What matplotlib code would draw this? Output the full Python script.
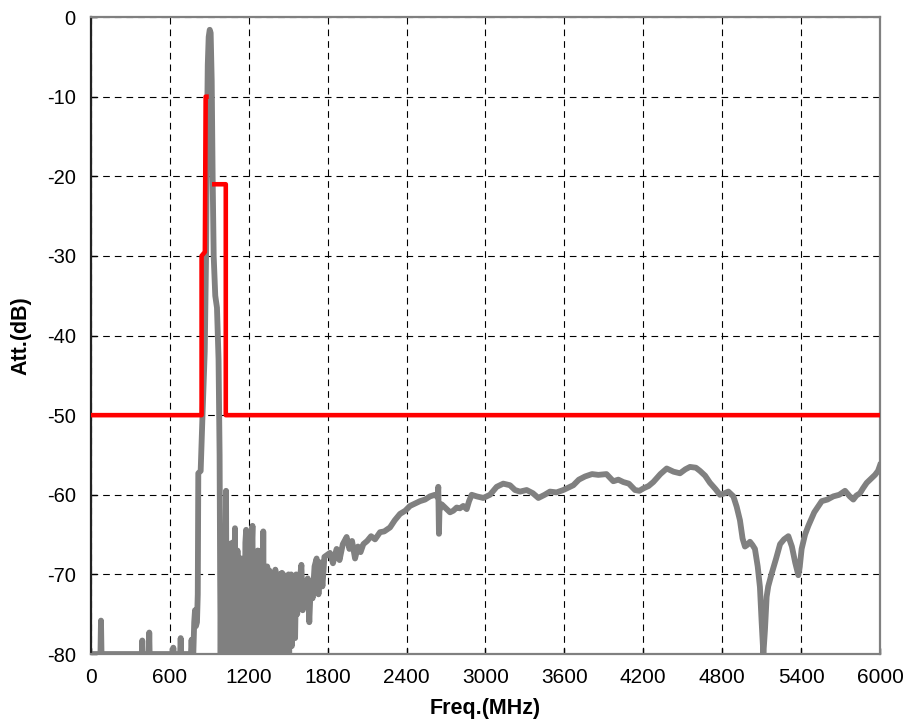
import matplotlib
matplotlib.use('Agg')
import matplotlib.pyplot as plt
import numpy as np

# measured response read off the plot (MHz, dB); -80 is the bottom of the scale
# stop band below the pass band and the pass band peak
freq_low = [0, 60, 72, 76, 80, 92, 380, 386, 390, 394,
            400, 436, 440, 443, 446, 452, 615, 622, 626, 630,
            636, 672, 678, 682, 686, 692, 755, 760, 765, 770,
            778, 785, 791, 798, 806, 812, 816, 834, 848, 865,
            875, 882, 888, 895, 903, 910, 918, 925, 933, 945,
            958, 970, 978, 982, 986]
att_low = [-80, -80, -80, -75.8, -80, -80, -80, -80, -78.3, -80,
           -80, -80, -80, -77.3, -80, -80, -80, -80, -79.2, -80,
           -80, -80, -80, -78, -80, -80, -80, -80, -78.2, -80,
           -80, -76, -74.5, -76.5, -76, -72.5, -57.3, -57, -50, -42,
           -30, -15, -6, -2.5, -1.6, -2, -8, -20, -30, -35,
           -36.5, -43, -55, -70, -80]

# noisy region just above the pass band
freq_noise = [991, 996, 1001, 1006, 1011, 1016, 1021, 1027, 1031, 1035,
              1040, 1045, 1050, 1055, 1060, 1065, 1070, 1075, 1080, 1085,
              1090, 1095, 1099, 1104, 1109, 1114, 1119, 1124, 1129, 1134,
              1139, 1144, 1149, 1154, 1159, 1164, 1169, 1174, 1180, 1185,
              1190, 1195, 1200, 1205, 1210, 1215, 1220, 1228, 1233, 1238,
              1243, 1248, 1253, 1258, 1263, 1268, 1273, 1278, 1283, 1288,
              1293, 1298, 1304, 1310, 1315, 1320, 1325, 1330, 1335, 1340,
              1345, 1350, 1356, 1361, 1366, 1371, 1376, 1381, 1386, 1391,
              1396, 1402, 1407, 1412, 1417, 1422, 1427, 1432, 1437, 1442,
              1447, 1452, 1457, 1462, 1467, 1472, 1477, 1482, 1487, 1492,
              1497, 1502, 1507, 1512, 1517, 1522, 1527, 1532, 1538, 1545,
              1552, 1560, 1568, 1576, 1584, 1592, 1600, 1610, 1622, 1635,
              1648, 1660, 1672, 1685, 1700, 1716, 1730, 1745, 1760, 1775,
              1792]
att_noise = [-68, -80, -72, -80, -66, -80, -70, -59.5, -80, -66,
             -78, -68, -80, -67, -80, -70, -76, -66, -80, -68,
             -74, -64.2, -80, -70, -80, -67, -78, -69, -80, -70,
             -76, -68, -80, -72, -78, -69, -80, -66, -64.4, -80,
             -70, -78, -67, -80, -72, -76, -68, -63.9, -80, -69,
             -77, -68, -80, -71, -76, -67, -80, -70, -78, -69,
             -75, -67, -80, -64.6, -78, -70, -80, -72, -77, -69,
             -80, -71, -69.5, -80, -72, -78, -70, -77, -69.8, -80,
             -73, -69.4, -78, -71, -80, -72, -76, -70, -80, -73,
             -78, -69.8, -76, -70, -80, -72, -77, -71, -80, -73,
             -75, -70, -80, -72, -77, -70, -79, -72, -76, -71,
             -78, -70, -75, -72, -74, -70, -68.8, -74.5, -71, -73.5,
             -70.5, -76, -71, -73, -69, -68, -72.5, -68.5, -71.5, -67.8,
             -67.6]

# upper stop band
freq_high = [1817, 1840, 1868, 1890, 1915, 1944, 1965, 1985, 2008, 2030,
             2050, 2071, 2100, 2130, 2160, 2198, 2230, 2274, 2310, 2350,
             2390, 2426, 2465, 2502, 2540, 2578, 2616, 2636, 2641, 2646,
             2650, 2667, 2705, 2730, 2755, 2781, 2805, 2831, 2857, 2875,
             2895, 2933, 2983, 3034, 3085, 3135, 3186, 3224, 3262, 3313,
             3360, 3402, 3450, 3490, 3540, 3592, 3630, 3668, 3710, 3757,
             3810, 3858, 3920, 3972, 4010, 4048, 4090, 4137, 4170, 4200,
             4240, 4276, 4330, 4378, 4430, 4479, 4520, 4555, 4600, 4631,
             4670, 4707, 4750, 4783, 4820, 4847, 4885, 4910, 4935, 4955,
             4973, 4990, 5011, 5030, 5049, 5070, 5087, 5100, 5113, 5125,
             5138, 5150, 5176, 5210, 5240, 5270, 5303, 5330, 5355, 5379,
             5390, 5404, 5430, 5455, 5500, 5557, 5600, 5645, 5690, 5734,
             5770, 5797, 5820, 5848, 5870, 5899, 5930, 5962, 5985, 6000]
att_high = [-67.3, -68.6, -66.8, -68.2, -66.2, -65.3, -66.8, -65.8, -68, -66.5,
            -67.2, -66.2, -65.8, -65.2, -65.6, -64.7, -64.6, -64.1, -63.2, -62.4,
            -62, -61.4, -61.1, -60.8, -60.6, -60.2, -60, -60.3, -59, -64.9,
            -62, -61.2, -61.8, -62.2, -62, -61.6, -61.7, -61.4, -61.8, -60.8,
            -60, -60.2, -60.4, -60, -59, -58.6, -58.8, -59.4, -59.6, -59.4,
            -59.8, -60.4, -60, -59.6, -59.7, -59.4, -59.1, -58.8, -58.1, -57.7,
            -57.4, -57.5, -57.4, -58.3, -58.1, -58.4, -58.6, -59.4, -59.5, -59.2,
            -58.9, -58.4, -57.4, -56.7, -57.1, -57.3, -56.8, -56.5, -56.6, -57,
            -57.6, -58.5, -59.3, -60, -59.8, -59.6, -60.2, -61.5, -63.2, -65.5,
            -66.5, -66.3, -65.9, -66.3, -66.8, -69, -71.6, -76, -80, -77,
            -72.8, -71.5, -69.9, -68, -66.2, -65.6, -65.2, -66.5, -68.5, -70.1,
            -69, -66.8, -65, -63.9, -62.2, -60.8, -60.6, -60.2, -60, -59.5,
            -60.2, -60.6, -60.1, -59.8, -59.2, -58.5, -58, -57.5, -57, -56.3]

# spec mask (the part hidden behind the peak is left out)
mask_freq = [0, 841, 841, 866, 872, 878, np.nan, 938, 1025, 1025, 6000]
mask_att = [-50, -50, -30, -29.5, -10, -10, np.nan, -21, -21, -50, -50]

freq = freq_low + freq_noise + freq_high
att = att_low + att_noise + att_high

plt.rcParams['font.family'] = ['Liberation Sans', 'DejaVu Sans']
plt.rcParams['axes.unicode_minus'] = False

fig = plt.figure(figsize=(9.09, 7.28), dpi=100)
ax = fig.add_axes([0.1001, 0.1016, 0.868, 0.875])

ax.plot(freq, att, color='#808080', lw=4.2, solid_joinstyle='round', zorder=2)
ax.plot(mask_freq, mask_att, color='#ff0000', lw=3.3, zorder=3)

ax.set_xlim(0, 6000)
ax.set_ylim(-80, 0)
ax.set_xticks(range(0, 6001, 600))
ax.set_yticks(range(-80, 1, 10))
ax.grid(True, color='black', lw=0.8, linestyle=(0, (6, 4.5)), zorder=1)
ax.set_axisbelow(True)
ax.tick_params(direction='in', length=4, width=1, color='black')
ax.tick_params(axis='y', pad=11, labelsize=14.5)
ax.tick_params(axis='x', pad=10, labelsize=15)
for lbl in ax.get_xticklabels():
    lbl.set_family(['Liberation Sans Narrow', 'Liberation Sans'])

for s in ['top', 'right', 'bottom']:
    ax.spines[s].set_color('#808080')
    ax.spines[s].set_linewidth(1.6)
ax.spines['left'].set_color('#222222')
ax.spines['left'].set_linewidth(1.6)

ax.set_xlabel('Freq.(MHz)', fontsize=15.5, fontweight='bold', labelpad=8)
ax.set_ylabel('Att.(dB)', fontsize=15.5, fontweight='bold', labelpad=11)

fig.savefig('out.png', dpi=100)
